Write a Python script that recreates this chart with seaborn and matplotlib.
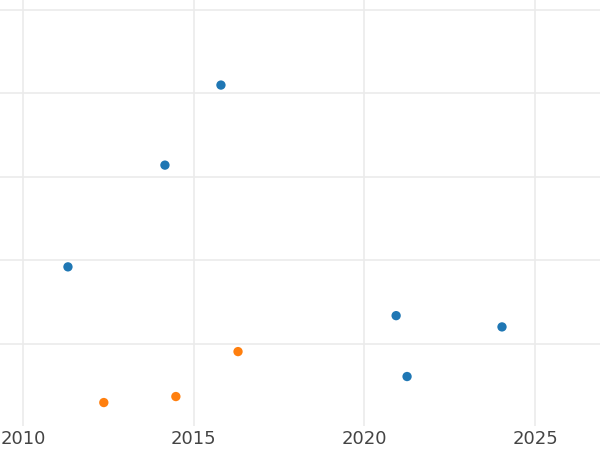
import pandas as pd
import numpy as np
import matplotlib
matplotlib.use('Agg')
import matplotlib.pyplot as plt
import seaborn as sns

# values (y axis has no labels, arbitrary units)
blue_x = [2015.80, 2014.16, 2011.32, 2020.93, 2024.03, 2021.25]
blue_y = [41.0, 31.4, 19.2, 13.35, 12.0, 6.05]
orange_x = [2012.37, 2014.48, 2016.30]
orange_y = [2.93, 3.65, 9.04]
groups = ['A', 'B']
palette = {'A': '#1f77b4', 'B': '#ff7f0e'}


def main():
    df = pd.DataFrame({
        'year': blue_x + orange_x,
        'value': blue_y + orange_y,
        'group': [groups[0]] * len(blue_x) + [groups[1]] * len(orange_x),
    })

    sns.set_style("white")
    fig = plt.figure(figsize=(6, 4.5), dpi=100)
    ax = fig.add_axes([0, 0.053, 1, 0.947])

    sns.scatterplot(data=df, x='year', y='value', hue='group', palette=palette,
                    s=45, linewidth=0, legend=False, ax=ax)

    ax.set_xlim(2009.33, 2026.9)
    ax.set_ylim(0.1, 51.2)
    ax.set_xticks([2010, 2015, 2020, 2025])
    ax.set_yticks([10, 20, 30, 40, 50])
    ax.set_yticklabels([])
    ax.tick_params(axis='x', length=0, labelsize=13, labelcolor='#444444', pad=3)
    ax.tick_params(axis='y', length=0)
    ax.grid(True, color='#ebebeb', linewidth=1.2)
    ax.set_axisbelow(True)
    ax.set_xlabel('')
    ax.set_ylabel('')
    sns.despine(left=True, bottom=True)

    fig.savefig('out.png', dpi=100)


if __name__ == '__main__':
    main()
